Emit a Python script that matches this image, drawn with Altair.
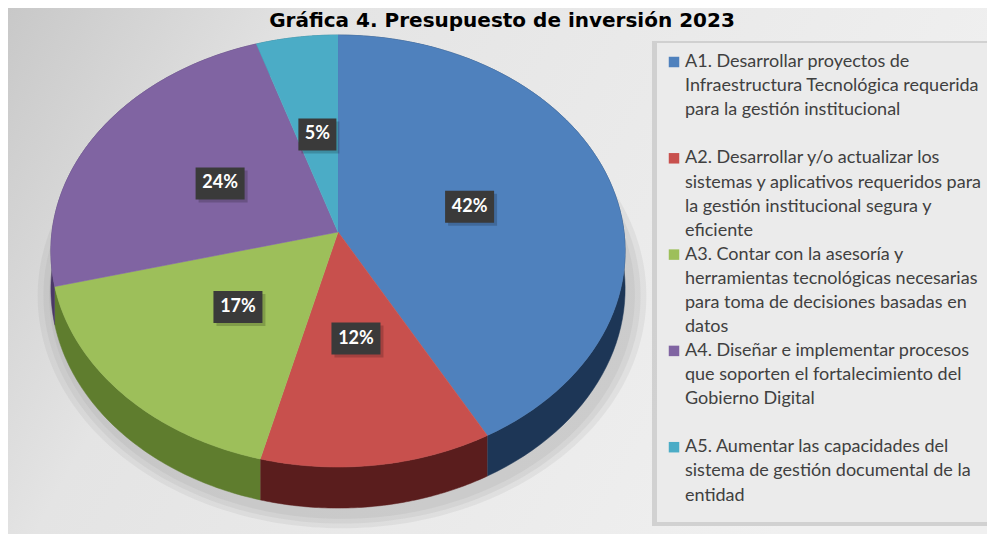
import altair as alt
import pandas as pd

# ---------------- data ----------------
title_text = "Gráfica 4. Presupuesto de inversión 2023"
categories = ["A1", "A2", "A3", "A4", "A5"]
shares = [42, 12, 17, 24, 5]
pct_labels = ["42%", "12%", "17%", "24%", "5%"]
legend_lines = [
    ["A1. Desarrollar proyectos de", "Infraestructura Tecnológica requerida", "para la gestión institucional"],
    ["A2. Desarrollar y/o actualizar los", "sistemas y aplicativos requeridos para",
     "la gestión institucional segura y", "eficiente"],
    ["A3. Contar con la asesoría y", "herramientas tecnológicas necesarias",
     "para toma de decisiones basadas en", "datos"],
    ["A4. Diseñar e implementar procesos", "que soporten el fortalecimiento del", "Gobierno Digital"],
    ["A5. Aumentar las capacidades del", "sistema de gestión documental de la", "entidad"],
]
face_colors = ["#4f81bd", "#c8504d", "#9dbf5a", "#8064a2", "#4bacc6"]
wall_colors = ["#1d3656", "#5a1d1d", "#5f7d2e", "#4a3866", "#2b6f82"]

# ---------------- layout / style ----------------
W, H = 979, 526
VX, VY = 330, 224          # pie vertex (pixels)
AX, BY, K = 286, 214.3, 0.088  # perspective ellipse parameters
DEPTH = 37.5
N = 72
LABEL_R = 0.48
LEG_X, LEG_Y0, LEG_STEP, LEG_LH = 666, 54, 96.3, 24.2
FONT = "Lato"

xs = alt.Scale(domain=[0, W], nice=False, zero=False)
ys = alt.Scale(domain=[0, H], nice=False, zero=False, reverse=True)

slices = pd.DataFrame({"idx": list(range(len(categories))), "cat": categories,
                       "share": shares, "label": pct_labels})
one = pd.DataFrame({"a": [0]})

base = alt.Chart(slices).transform_window(
    cum="sum(share)", sort=[alt.SortField("idx")], frame=[None, 0]
).transform_calculate(
    a0="(datum.cum - datum.share) / 100 * 2 * PI",
    a1="datum.cum / 100 * 2 * PI",
)

# background panel
bg = alt.Chart(one).mark_rect(
    fill=alt.Gradient(gradient="linear", x1=0, x2=1, y1=0, y2=0.3,
                      stops=[alt.GradientStop(offset=0, color="#c8c8c8"),
                             alt.GradientStop(offset=0.3, color="#e4e4e4"),
                             alt.GradientStop(offset=1, color="#f0f0f0")])
).encode(x=alt.value(0), x2=alt.value(W), y=alt.value(0), y2=alt.value(H))

leg_shadow = alt.Chart(one).mark_rect(fill="#c9c9c9", opacity=0.8).encode(
    x=alt.value(644), x2=alt.value(W), y=alt.value(33), y2=alt.value(518))
leg_box = alt.Chart(one).mark_rect(fill="#ebebeb").encode(
    x=alt.value(649), x2=alt.value(W), y=alt.value(35), y2=alt.value(514))

# soft drop shadow under the pie (decorative)
shadow = alt.Chart(pd.DataFrame({"s": [1.06, 1.04, 1.02]})).transform_calculate(
    pts=f"sequence(0, {N * 4 + 1})"
).transform_flatten(["pts"]).transform_calculate(
    t=f"datum.pts / {N * 4} * 2 * PI",
).transform_calculate(
    den=f"1 + {K} * cos(datum.t)",
).transform_calculate(
    px=f"{VX} + 4 + datum.s * {AX} * sin(datum.t) / datum.den",
    py=f"{VY} + 6 - datum.s * {BY} * cos(datum.t) / datum.den + {DEPTH} / datum.den",
).mark_line(fill="#8a8a8a", fillOpacity=0.12, strokeWidth=0).encode(
    x=alt.X("px:Q", scale=xs, axis=None),
    y=alt.Y("py:Q", scale=ys, axis=None),
    order=alt.Order("pts:Q"),
    detail="s:N",
)

enc_xy = dict(
    x=alt.X("px:Q", scale=xs, axis=None),
    y=alt.Y("py:Q", scale=ys, axis=None),
    order=alt.Order("pts:Q"),
    detail="cat:N",
)

walls = base.transform_calculate(
    pts=f"sequence(0, {2 * N + 2})"
).transform_flatten(["pts"]).transform_calculate(
    j=f"datum.pts <= {N} ? datum.pts : {2 * N + 1} - datum.pts",
).transform_calculate(
    t=f"datum.a0 + (datum.a1 - datum.a0) * datum.j / {N}",
).transform_calculate(
    den=f"1 + {K} * cos(datum.t)",
).transform_calculate(
    px=f"{VX} + {AX} * sin(datum.t) / datum.den",
    py=f"{VY} - {BY} * cos(datum.t) / datum.den + (datum.pts > {N} ? {DEPTH} / datum.den : 0)",
).mark_line(strokeWidth=0.5).encode(
    fill=alt.Fill("cat:N", scale=alt.Scale(domain=categories, range=wall_colors), legend=None),
    stroke=alt.Stroke("cat:N", scale=alt.Scale(domain=categories, range=wall_colors), legend=None),
    **enc_xy,
)

faces = base.transform_calculate(
    pts=f"sequence(-1, {N + 1})"
).transform_flatten(["pts"]).transform_calculate(
    t=f"datum.a0 + (datum.a1 - datum.a0) * max(datum.pts, 0) / {N}",
).transform_calculate(
    den=f"1 + {K} * cos(datum.t)",
).transform_calculate(
    px=f"datum.pts < 0 ? {VX} : {VX} + {AX} * sin(datum.t) / datum.den",
    py=f"datum.pts < 0 ? {VY} : {VY} - {BY} * cos(datum.t) / datum.den",
).mark_line(strokeWidth=0.6).encode(
    fill=alt.Fill("cat:N", scale=alt.Scale(domain=categories, range=face_colors), legend=None),
    stroke=alt.Stroke("cat:N", scale=alt.Scale(domain=categories, range=face_colors), legend=None),
    **enc_xy,
)

lab_base = base.transform_calculate(
    m="(datum.a0 + datum.a1) / 2",
).transform_calculate(
    den=f"1 + {K} * {LABEL_R} * cos(datum.m)",
).transform_calculate(
    lx=f"{VX} + {AX} * {LABEL_R} * sin(datum.m) / datum.den",
    ly=f"{VY} - {BY} * {LABEL_R} * cos(datum.m) / datum.den",
    hw="length(datum.label) * 5.5 + 8",
).transform_calculate(
    bx1="datum.lx - datum.hw", bx2="datum.lx + datum.hw",
    by1="datum.ly - 16", by2="datum.ly + 16",
    sx1="datum.lx - datum.hw + 3", sx2="datum.lx + datum.hw + 3",
    sy1="datum.ly - 13", sy2="datum.ly + 19",
)

lab_shadow = lab_base.mark_rect(fill="#000000", opacity=0.18).encode(
    x=alt.X("sx1:Q", scale=xs, axis=None), x2="sx2:Q",
    y=alt.Y("sy1:Q", scale=ys, axis=None), y2="sy2:Q")
lab_box = lab_base.mark_rect(fill="#3a3a3a").encode(
    x=alt.X("bx1:Q", scale=xs, axis=None), x2="bx2:Q",
    y=alt.Y("by1:Q", scale=ys, axis=None), y2="by2:Q")
lab_text = lab_base.mark_text(font=FONT, fontSize=18, fontWeight="bold", color="white",
                              align="center", baseline="middle").encode(
    x=alt.X("lx:Q", scale=xs, axis=None),
    y=alt.Y("ly:Q", scale=ys, axis=None),
    text="label:N")

# legend
rows = []
for i, lines in enumerate(legend_lines):
    for l, txt in enumerate(lines):
        rows.append({"idx": i, "line": l, "cat": categories[i], "txt": txt})
leg_df = pd.DataFrame(rows)

leg = alt.Chart(leg_df).transform_calculate(
    ly=f"{LEG_Y0} + datum.idx * {LEG_STEP} + datum.line * {LEG_LH}",
    lx=f"{LEG_X}",
)
leg_sq = leg.transform_filter("datum.line == 0").mark_square(size=110, opacity=1).encode(
    x=alt.X("lx:Q", scale=xs, axis=None),
    y=alt.Y("ly:Q", scale=ys, axis=None),
    color=alt.Color("cat:N", scale=alt.Scale(domain=categories, range=face_colors), legend=None),
)
leg_txt = leg.mark_text(font=FONT, fontSize=18, color="#404040", align="left",
                        baseline="middle", dx=11).encode(
    x=alt.X("lx:Q", scale=xs, axis=None),
    y=alt.Y("ly:Q", scale=ys, axis=None),
    text="txt:N",
)

title = alt.Chart(one).mark_text(font="DejaVu Sans", fontSize=20, fontWeight="bold",
                                 color="#000000", align="center", baseline="top").encode(
    x=alt.value(494), y=alt.value(3), text=alt.value(title_text))

chart = alt.layer(
    bg, leg_shadow, leg_box, shadow, walls, faces, lab_shadow, lab_box, lab_text,
    leg_sq, leg_txt, title
).resolve_scale(
    fill="independent", stroke="independent", color="independent"
).properties(
    width=W, height=H, padding=0, autosize="none", background="white"
).configure_view(stroke=None)

chart.save("out.html", embed_options={"renderer": "svg", "actions": False})
